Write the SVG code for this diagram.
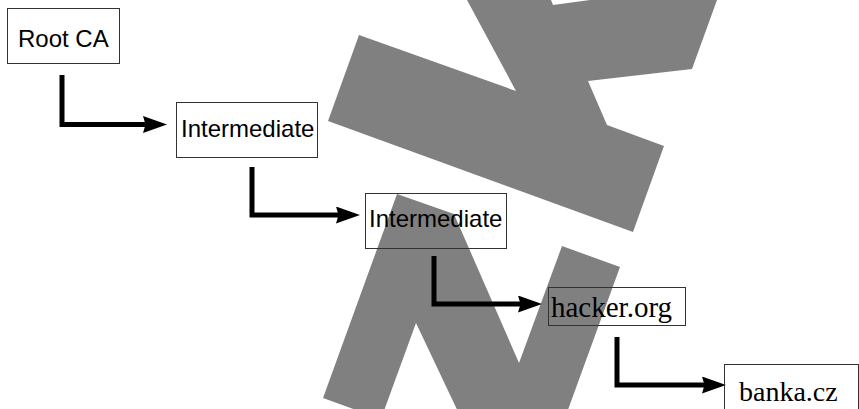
<svg xmlns="http://www.w3.org/2000/svg" width="859" height="409" viewBox="0 0 859 409">
<style>
.bg{fill:#fff}
.mark{fill:#808080;stroke:none}
.box{fill:none;stroke:#333;stroke-width:1}
.sans{font-family:"Liberation Sans",Arial,sans-serif;font-size:24px;fill:#000}
.serif{font-family:"Liberation Serif","Times New Roman",serif;fill:#000}
.conn{fill:none;stroke:#000;stroke-width:5;stroke-linejoin:miter}
</style>
<defs>
<marker id="ah" markerUnits="userSpaceOnUse" markerWidth="26" markerHeight="18" refX="7" refY="8.5" orient="auto">
<path d="M0,0 L24,8.5 L0,17 L2.5,8.5 Z" fill="#000"/>
</marker>
</defs>
<rect class="bg" x="0" y="0" width="859" height="409"/>
<g id="watermark">
<polygon class="mark" points="467,0 551,0 553,5 590,0 717,0 692,69 588,81 607,125 664,146 633,232 328,121 359,35 516,91"/>
<polygon class="mark" points="397,194 454,214 519,363 562,246 620,267 565,418 461,418 416,323 381,419 323,398"/>
</g>
<g id="connectors">
<path class="conn" d="M62,75 V124.5 H150" marker-end="url(#ah)"/>
<path class="conn" d="M252,167 V215 H343" marker-end="url(#ah)"/>
<path class="conn" d="M434,256 V304 H525" marker-end="url(#ah)"/>
<path class="conn" d="M617,337 V385 H709" marker-end="url(#ah)"/>
</g>
<g id="root-ca">
<rect class="box" x="7.5" y="8.5" width="112" height="55"/>
<text class="sans" x="18" y="47">Root CA</text>
</g>
<g id="intermediate-1">
<rect class="box" x="176.5" y="102.5" width="141" height="55"/>
<text class="sans" x="181" y="137">Intermediate</text>
</g>
<g id="intermediate-2">
<rect class="box" x="365.5" y="193.5" width="141" height="55"/>
<text class="sans" x="369" y="227">Intermediate</text>
</g>
<g id="hacker-org">
<rect class="box" x="548.5" y="287.5" width="137" height="38"/>
<text class="serif" x="551" y="317" font-size="29">hacker.org</text>
</g>
<g id="banka-cz">
<rect class="box" x="724.5" y="364.5" width="134" height="60"/>
<text class="serif" x="739" y="401" font-size="28">banka.cz</text>
</g>
</svg>
